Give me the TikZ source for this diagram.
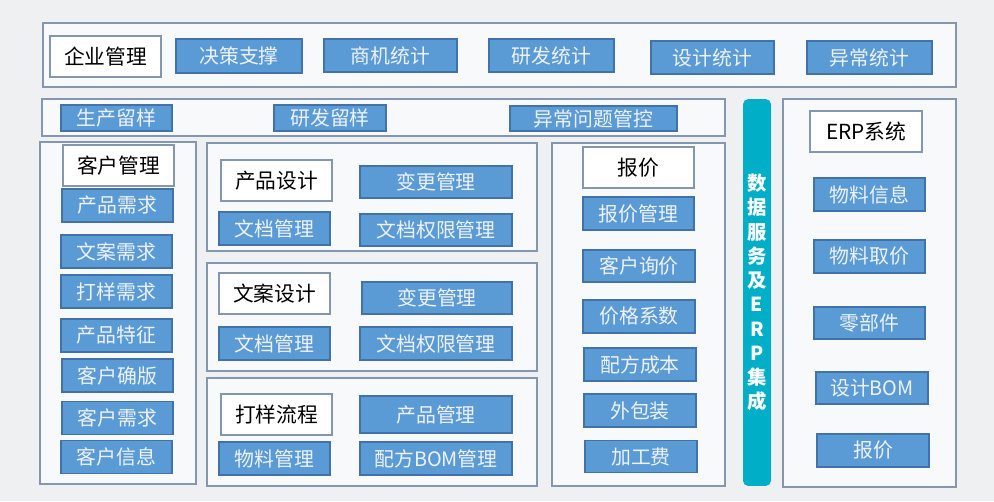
\documentclass[tikz,border=0pt]{standalone}
\usepackage{fontspec}
\setmainfont{Noto Sans CJK SC}
\usetikzlibrary{backgrounds}
\pgfdeclarelayer{panellayer}
\pgfdeclarelayer{nodelayer}
\pgfsetlayers{panellayer,nodelayer,main}
\definecolor{bg}{RGB}{239,240,242}
\definecolor{panelfill}{RGB}{248,249,251}
\definecolor{paneldraw}{RGB}{133,151,176}
\definecolor{boxblue}{RGB}{91,155,213}
\definecolor{boxedge}{RGB}{66,114,170}
\definecolor{boxtext}{RGB}{238,242,248}
\definecolor{barcolor}{RGB}{0,174,199}
\tikzset{font=\fontsize{11.3}{13}\selectfont}
\tikzstyle{panel}=[draw=paneldraw,fill=panelfill,line width=0.8pt]
\tikzstyle{title}=[draw=paneldraw,fill=white,line width=0.8pt,inner sep=0pt,minimum width=2.22cm,minimum height=0.82cm,font=\fontsize{11.8}{13}\selectfont]
\tikzstyle{func}=[draw=boxedge,fill=boxblue,text=boxtext,line width=0.6pt,inner sep=0pt,minimum width=2.22cm,minimum height=0.66cm]
\tikzstyle{databar}=[fill=barcolor,rounded corners=3pt,inner sep=0pt,text=white,align=center,font=\fontsize{11}{13.8}\selectfont\bfseries]

\begin{document}
\begin{tikzpicture}[x=0.02cm,y=-0.02cm]
	\begin{pgfonlayer}{panellayer}
		\path[use as bounding box,fill=bg] (0,0) rectangle (994,501);
		\draw[style=panel] (43,23) rectangle (956,87);
		\draw[style=panel] (42,99) rectangle (725,136);
		\draw[style=panel] (40,142) rectangle (196,484);
		\draw[style=panel] (207,143) rectangle (537,251);
		\draw[style=panel] (207,263) rectangle (537,371);
		\draw[style=panel] (207,378) rectangle (537,486);
		\draw[style=panel] (552,143) rectangle (725,486);
		\draw[style=panel] (783,99) rectangle (956,487);
	\end{pgfonlayer}
	\begin{pgfonlayer}{nodelayer}
		% top row
		\node [style=title] (qygl) at (105.5,56.5) {企业管理};
		\node [style=func, minimum width=2.52cm, minimum height=0.68cm] (jczc) at (239,56) {决策支撑};
		\node [style=func, minimum width=2.66cm] (sjtj) at (390.5,55.5) {商机统计};
		\node [style=func, minimum width=2.5cm] (yftj) at (551.5,55.5) {研发统计};
		\node [style=func, minimum width=2.46cm] (sjtj2) at (712.5,57.5) {设计统计};
		\node [style=func, minimum width=2.5cm] (yctj) at (869.5,57.5) {异常统计};
		% second row
		\node [style=func, minimum height=0.52cm] (scly) at (116.5,118) {生产留样};
		\node [style=func, minimum width=2.24cm, minimum height=0.52cm] (yfly) at (330,118) {研发留样};
		\node [style=func, minimum width=3.34cm, minimum height=0.5cm] (ycgk) at (593.5,118.5) {异常问题管控};
		% customer
		\node [style=title] (khgl) at (118.5,165.5) {客户管理};
		\node [style=func] (cpxq) at (117.5,205.5) {产品需求};
		\node [style=func] (waxq) at (116.5,251.5) {文案需求};
		\node [style=func] (dyxq) at (116.5,291.5) {打样需求};
		\node [style=func] (cptz) at (116.5,335.5) {产品特征};
		\node [style=func] (khqb) at (117.5,375.5) {客户确版};
		\node [style=func] (khxq) at (117.5,418) {客户需求};
		\node [style=func] (khxx) at (116.5,457) {客户信息};
		% product design
		\node [style=title] (cpsj) at (276.5,180.5) {产品设计};
		\node [style=func, minimum width=3.04cm, minimum height=0.64cm] (bggl) at (436,182) {变更管理};
		\node [style=func] (wdgl) at (274.5,228.5) {文档管理};
		\node [style=func, minimum width=3.04cm, minimum height=0.64cm] (qxgl) at (436,230) {文档权限管理};
		% copy design
		\node [style=title] (wasj) at (274.5,293.5) {文案设计};
		\node [style=func, minimum width=3cm, minimum height=0.64cm] (bggl2) at (437,298) {变更管理};
		\node [style=func] (wdgl2) at (274.5,343.5) {文档管理};
		\node [style=func, minimum width=3.04cm] (qxgl2) at (436,343.5) {文档权限管理};
		% sampling
		\node [style=title] (dylc) at (276.5,414.5) {打样流程};
		\node [style=func, minimum width=3.04cm, minimum height=0.74cm] (cpgl) at (436,414.5) {产品管理};
		\node [style=func] (wlgl) at (274.5,458.5) {物料管理};
		\node [style=func, minimum width=3.04cm] (bomgl) at (436,458.5) {配方BOM管理};
		% quotation
		\node [style=title] (bj) at (638.5,167.5) {报价};
		\node [style=func] (bjgl) at (638.5,213.5) {报价管理};
		\node [style=func, minimum width=2.24cm, minimum height=0.64cm] (khxj) at (639,266) {客户询价};
		\node [style=func, minimum width=2.24cm] (jgxs) at (639,316.5) {价格系数};
		\node [style=func, minimum width=2.24cm] (pfcb) at (640,364.5) {配方成本};
		\node [style=func, minimum width=2.24cm] (wbz) at (640,410.5) {外包装};
		\node [style=func, minimum width=2.24cm, minimum height=0.64cm] (jgf) at (641,456.5) {加工费};
		% data bar
		\node [style=databar, minimum width=0.56cm, minimum height=7.74cm] (sjfw) at (757,292.5) {数\\据\\服\\务\\及\\E\\R\\P\\集\\成};
		% erp
		\node [style=title, minimum width=2.24cm] (erp) at (866,131.5) {ERP系统};
		\node [style=func] (wlxx) at (869.5,194.5) {物料信息};
		\node [style=func] (wlqj) at (869.5,256.5) {物料取价};
		\node [style=func, minimum height=0.64cm] (lbj) at (869.5,323) {零部件};
		\node [style=func, minimum width=2.24cm, minimum height=0.64cm] (sjbom) at (872,388) {设计BOM};
		\node [style=func, minimum width=2.24cm] (erpbj) at (873,450.5) {报价};
	\end{pgfonlayer}
\end{tikzpicture}
\end{document}
